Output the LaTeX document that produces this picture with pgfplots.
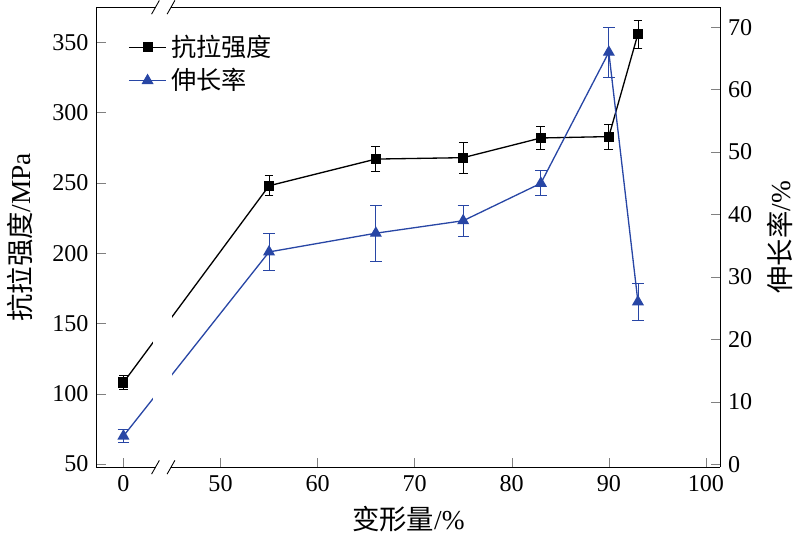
\documentclass[border=0pt]{standalone}
\usepackage{pgfplots}
\pgfplotsset{compat=1.18}
\usepackage{fontspec}
\setmainfont{Liberation Serif}
\newfontfamily\cjk{Noto Sans CJK SC}
\definecolor{myblue}{RGB}{40,70,165}
\begin{document}
\begin{tikzpicture}
\pgfplotsset{every axis/.append style={scale only axis,width=285pt,height=210pt,
  xmin=37.2,xmax=101.5,font=\fontsize{11}{13}\selectfont,
  tick align=inside, /pgf/number format/assume math mode=true,
  every axis label/.append style={font=\fontsize{12.5}{14}\selectfont}}}
\begin{axis}[at={(0,0)},axis x line*=bottom, axis y line*=left,
  ymin=47.7,ymax=375, ytick={50,100,...,350},
  xtick={40,50,60,70,80,90,100}, xticklabels={0,50,60,70,80,90,100},
  xlabel={{\cjk 变形量}/\%}, ylabel={{\cjk 抗拉强度}/MPa},
  ylabel style={yshift=2pt},
  legend style={at={(0.04,0.96)},anchor=north west,draw=none,fill=none,font=\cjk\fontsize{11.5}{14}\selectfont},
  legend cell align=left, clip=false]
\addplot[black,semithick,mark=square*,mark size=2pt,error bars/.cd,y dir=both,y explicit]
 coordinates {(40,108)+-(0,5) (55,248)+-(0,7) (66,267)+-(0,9) (75,268)+-(0,11) (83,282)+-(0,8) (90,283)+-(0,9) (93,356)+-(0,10)};
\addlegendentry{抗拉强度}
\addlegendimage{myblue,semithick,mark=triangle*,mark size=2.6pt}
\addlegendentry{伸长率}
\end{axis}
\begin{axis}[at={(0,0)},axis x line=none, axis y line*=right,
  ymin=-0.5,ymax=73.2, ytick={0,10,...,70},
  ylabel={{\cjk 伸长率}/\%}, clip=false]
\addplot[myblue,semithick,mark=triangle*,mark size=2.6pt,error bars/.cd,y dir=both,y explicit]
 coordinates {(40,4.5)+-(0,1) (55,34)+-(0,3) (66,37)+-(0,4.5) (75,39)+-(0,2.5) (83,45)+-(0,2) (90,66)+-(0,4) (93,26)+-(0,3)};
% axis break gap
\fill[white] (axis cs:43.0,2) rectangle (axis cs:45.0,32);
\fill[white] (axis cs:43.4,-0.9) rectangle (axis cs:44.9,-0.1);
\fill[white] (axis cs:43.4,72.8) rectangle (axis cs:44.9,73.6);
\draw[black] (axis cs:42.9,-1.6) -- (axis cs:43.7,0.6);
\draw[black] (axis cs:44.5,-1.6) -- (axis cs:45.3,0.6);
\draw[black] (axis cs:42.9,72.1) -- (axis cs:43.7,74.3);
\draw[black] (axis cs:44.5,72.1) -- (axis cs:45.3,74.3);
\draw[black] (axis cs:37.2,73.2) -- (axis cs:43.4,73.2);
\draw[black] (axis cs:44.9,73.2) -- (axis cs:101.5,73.2);
\end{axis}
\end{tikzpicture}
\end{document}
